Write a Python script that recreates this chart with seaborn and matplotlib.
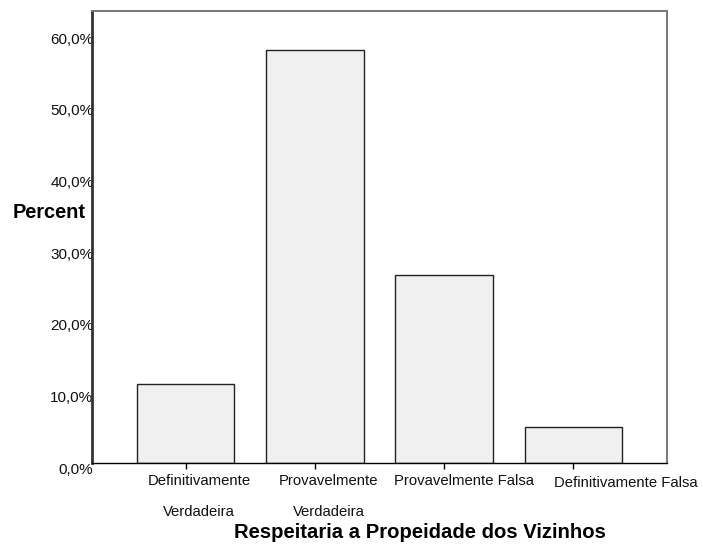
import matplotlib
matplotlib.use("Agg")
import matplotlib.pyplot as plt
import matplotlib.transforms as mtransforms
from matplotlib.ticker import FuncFormatter
import pandas as pd
import seaborn as sns

# Data
categories = ["Definitivamente Verdadeira", "Provavelmente Verdadeira",
              "Provavelmente Falsa", "Definitivamente Falsa"]
tick_labels = ["Definitivamente\nVerdadeira", "Provavelmente\nVerdadeira",
               "Provavelmente Falsa", "Definitivamente Falsa"]
percent = [11.0, 57.5, 26.2, 5.0]

df = pd.DataFrame({"categoria": categories, "percent": percent})

sns.set_style("white")
plt.rcParams["font.family"] = ["Liberation Sans", "DejaVu Sans"]
plt.rcParams["text.color"] = "black"
plt.rcParams["axes.labelcolor"] = "black"

fig = plt.figure(figsize=(7.03, 5.47), dpi=100)
ax = fig.add_axes([0.1309, 0.1541, 0.8179, 0.8258])

sns.barplot(data=df, x="categoria", y="percent", color="#f0f0f0",
            edgecolor="#222222", linewidth=1.0, width=0.755, saturation=1, ax=ax)

ax.set_xlim(-0.725, 3.725)
ax.set_ylim(0, 63.0)
ax.set_yticks([0, 10, 20, 30, 40, 50, 60])
ax.yaxis.set_major_formatter(FuncFormatter(lambda v, p: f"{v:.1f}%".replace(".", ",")))

# spines, SPSS look
for side in ["top", "right"]:
    ax.spines[side].set_color("#777777")
    ax.spines[side].set_linewidth(1.4)
ax.spines["left"].set_color("#333333")
ax.spines["left"].set_linewidth(2.0)
ax.spines["bottom"].set_color("black")
ax.spines["bottom"].set_linewidth(1.0)

ax.tick_params(axis="y", left=False, length=0, pad=-1, labelsize=11,
               labelcolor="#111111")
for lab in ax.get_yticklabels():
    lab.set_verticalalignment("top")

ax.tick_params(axis="x", bottom=True, length=4.3, width=1, color="black",
               direction="out", pad=4, labelsize=10.7, labelcolor="#111111")
labs = ax.set_xticklabels(tick_labels, linespacing=2.5)
dx = [13.5, 14, 20, 52]
dy = [0, 0, 0, -2]
for lab, ox, oy in zip(labs, dx, dy):
    lab.set_verticalalignment("top")
    lab.set_transform(lab.get_transform() +
                      mtransforms.ScaledTranslation(ox / 100, oy / 100, fig.dpi_scale_trans))

ax.set_ylabel("Percent", rotation=0, fontsize=14.4, fontweight="bold",
              ha="right", va="center")
ax.yaxis.set_label_coords(-0.0104, 0.554)
ax.set_xlabel("Respeitaria a Propeidade dos Vizinhos", fontsize=14.6,
              fontweight="bold", va="center")
ax.xaxis.set_label_coords(0.5704, -0.1556)

fig.savefig("out.png", dpi=100)
